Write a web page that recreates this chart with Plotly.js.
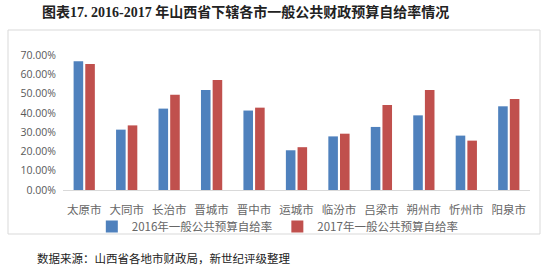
<!DOCTYPE html>
<html>
<head>
<meta charset="utf-8">
<script src="https://cdn.plot.ly/plotly-3.0.1.min.js"></script>
<style>
html,body{margin:0;padding:0;background:#fff;}
#chart{width:547px;height:269px;}
</style>
</head>
<body>
<div id="chart"></div>
<script>
var cities = ["太原市","大同市","长治市","晋城市","晋中市","运城市","临汾市","吕梁市","朔州市","忻州市","阳泉市"];
var rate2016 = [0.667,0.313,0.422,0.518,0.412,0.206,0.278,0.327,0.387,0.282,0.434];
var rate2017 = [0.653,0.335,0.494,0.570,0.427,0.222,0.292,0.441,0.518,0.256,0.472];
var name2016 = "2016年一般公共预算自给率";
var name2017 = "2017年一般公共预算自给率";
var titleText = "图表17. 2016-2017 年山西省下辖各市一般公共财政预算自给率情况";
var sourceText = "数据来源：山西省各地市财政局，新世纪评级整理";

var cjk = "Noto Sans CJK SC, sans-serif";
var traces = [
  {type:"bar", x:cities, y:rate2016, name:name2016, marker:{color:"#4F81BD"}, hoverinfo:"none"},
  {type:"bar", x:cities, y:rate2017, name:name2017, marker:{color:"#C0504D"}, hoverinfo:"none"}
];
var layout = {
  width:547, height:269,
  margin:{l:63, r:17, t:55, b:79},
  paper_bgcolor:"#fff", plot_bgcolor:"#fff",
  barmode:"group", bargap:0.45, bargroupgap:0.18,
  showlegend:true,
  font:{family:cjk, color:"#595959", size:11},
  title:{text:titleText, font:{family:"Liberation Serif, Noto Sans CJK SC, serif", size:14, color:"#222", weight:"bold"},
         xref:"container", yref:"container", x:42/547, xanchor:"left", y:1-12/269, yanchor:"middle"},
  xaxis:{showline:true, linecolor:"#d9d9d9", linewidth:1, ticks:"", showgrid:false, zeroline:false,
         ticklabelstandoff:9,
         tickfont:{family:cjk, size:11.5, color:"#666666"}, fixedrange:true},
  yaxis:{range:[0,0.7], dtick:0.1, tickformat:".2%", showgrid:false, zeroline:false, showline:false,
         ticks:"", ticklabelstandoff:6, tickfont:{family:"Open Sans, sans-serif", size:10.5, color:"#595959"}, fixedrange:true},
  legend:{orientation:"h", x:0.46, xanchor:"center", y:-0.27, yanchor:"middle",
          font:{family:cjk, size:11.5, color:"#666666"}, itemwidth:30, bgcolor:"rgba(0,0,0,0)"},
  shapes:[{type:"rect", xref:"paper", yref:"paper", x0:(8-63)/467, x1:(540-63)/467, y0:(190-234)/135, y1:(190-30)/135,
           line:{color:"#d9d9d9", width:1}, fillcolor:"rgba(0,0,0,0)", layer:"below"}],
  annotations:[{text:sourceText, xref:"paper", yref:"paper", x:(35-63)/467, xanchor:"left", y:(190-258)/135, yanchor:"middle",
                showarrow:false, font:{family:cjk, size:11.5, color:"#222"}}]
};
Plotly.newPlot("chart", traces, layout, {displayModeBar:false, staticPlot:true});
</script>
</body>
</html>
